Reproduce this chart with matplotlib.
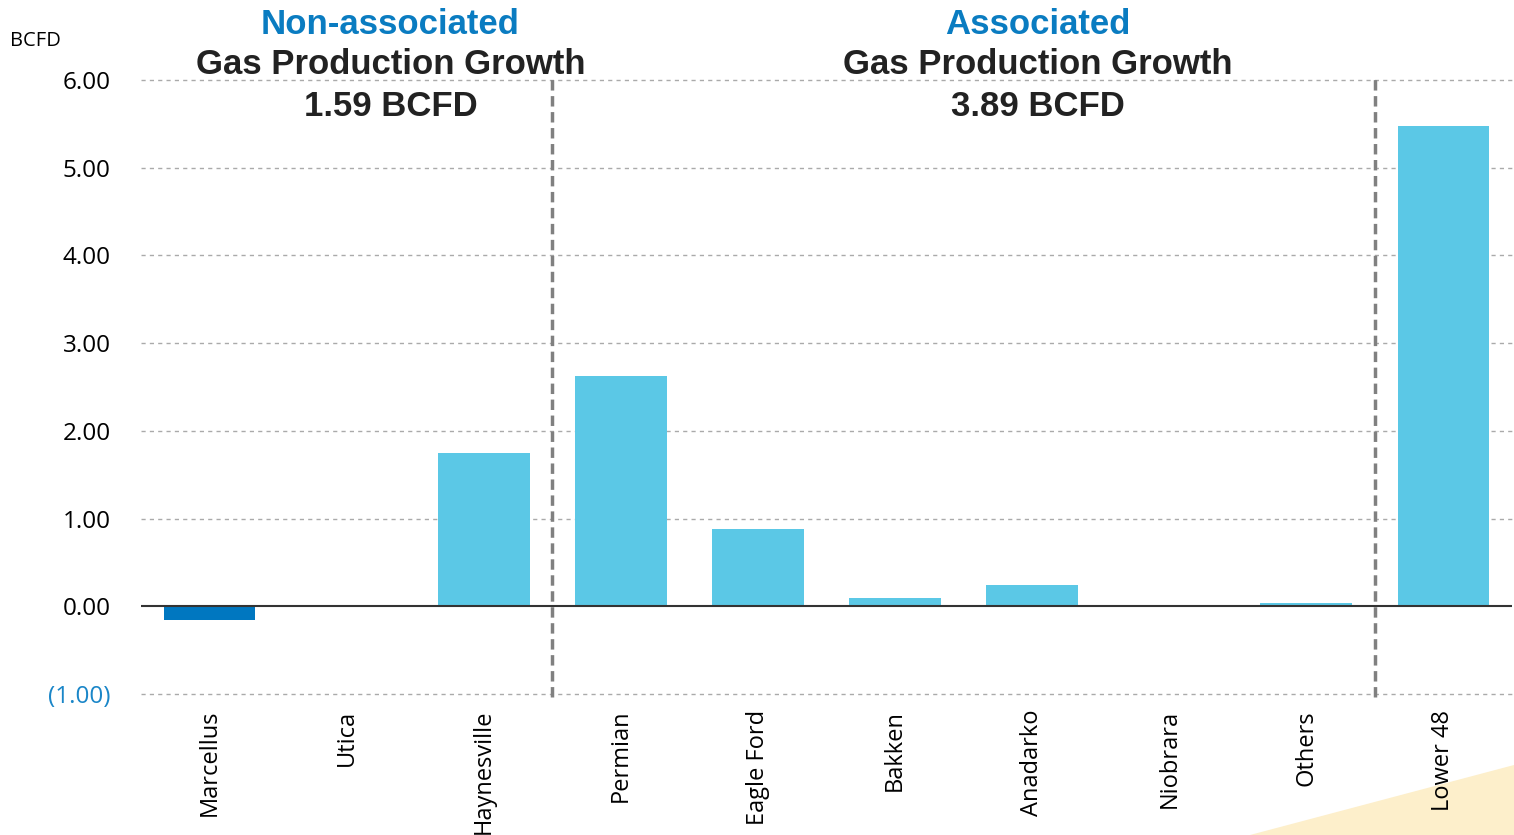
import matplotlib.pyplot as plt
from matplotlib.patches import Polygon
from matplotlib.transforms import blended_transform_factory

# gas production growth by basin, BCFD
basins = ["Marcellus", "Utica", "Haynesville", "Permian", "Eagle Ford",
          "Bakken", "Anadarko", "Niobrara", "Others", "Lower 48"]
growth = [-0.16, 0.005, 1.75, 2.62, 0.88, 0.10, 0.24, 0.01, 0.04, 5.48]
bar_colors = ["#0077C0", "#1B6F85", "#5BC8E6", "#5BC8E6", "#5BC8E6",
              "#5BC8E6", "#5BC8E6", "#1B6F85", "#5BC8E6", "#5BC8E6"]

y_ticks = [-1, 0, 1, 2, 3, 4, 5, 6]
y_labels = ["(1.00)", "0.00", "1.00", "2.00", "3.00", "4.00", "5.00", "6.00"]

groups = ["Non-associated", "Associated"]
group_totals = ["1.59 BCFD", "3.89 BCFD"]
group_centers = [1.32, 6.04]
dividers = [2.5, 8.5]

fig = plt.figure(figsize=(15.14, 8.35), dpi=100)
ax = fig.add_axes([141 / 1514, 1 - 694 / 835, 1371 / 1514, 614 / 835])
ax.set_zorder(2)

# pale wedge in the lower right corner
fig.patches.append(Polygon([(1250 / 1514, 0), (1, 70 / 835), (1, 0)],
                           closed=True, transform=fig.transFigure,
                           facecolor="#FDEFCB", edgecolor="none", zorder=-1))

x = range(len(basins))
ax.bar(x, growth, width=0.67, color=bar_colors, zorder=3)

ax.set_xlim(-0.5, 9.5)
ax.set_ylim(-1, 6)
ax.set_yticks(y_ticks)
ax.set_yticklabels(y_labels, fontsize=17.5, family="Open Sans")
ax.get_yticklabels()[0].set_color("#1A86C8")
ax.tick_params(axis="y", length=0, pad=22)
ax.set_xticks(list(x))
ax.set_xticklabels(basins, rotation=90, fontsize=17, family="Open Sans",
                   va="top")
ax.tick_params(axis="x", length=0, pad=11.5)
for s in ax.spines.values():
    s.set_visible(False)
ax.patch.set_alpha(0)

for t in y_ticks:
    if t != 0:
        ax.axhline(t, color="#AAAAAA", lw=1, ls=(0, (3, 3)), zorder=1,
                   clip_on=False)
ax.axhline(0, color="#333333", lw=1.5, zorder=4)

for d in dividers:
    ax.plot([d, d], [-1.03, 6.02], color="#808080", lw=2.5,
            ls=(0, (3, 1.6)), zorder=5, clip_on=False)

tr = blended_transform_factory(ax.transData, fig.transFigure)
for cx, name, total in zip(group_centers, groups, group_totals):
    ax.text(cx, 1 - 24 / 835, name, transform=tr, ha="center", va="center",
            fontsize=25, fontweight="bold", color="#0A7CC1",
            family="Liberation Sans")
    ax.text(cx, 1 - 65 / 835, "Gas Production Growth", transform=tr,
            ha="center", va="center", fontsize=25, fontweight="bold",
            color="#222222", family="Liberation Sans")
    ax.text(cx, 1 - 107 / 835, total, transform=tr, ha="center",
            va="center", fontsize=25, fontweight="bold", color="#222222",
            family="Liberation Sans")

fig.text(10 / 1514, 1 - 41 / 835, "BCFD", fontsize=14.5, family="Open Sans",
         va="center", ha="left")

fig.savefig("out.png", dpi=100)
